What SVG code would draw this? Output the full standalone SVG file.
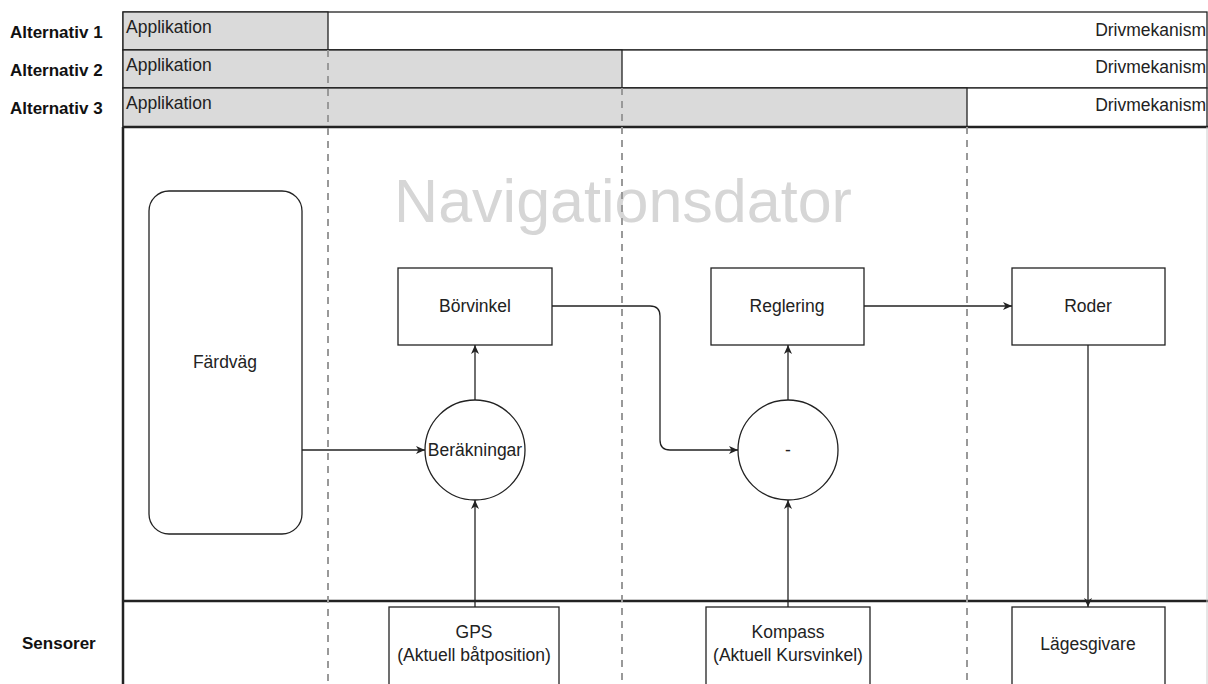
<svg xmlns="http://www.w3.org/2000/svg" width="1208" height="684" viewBox="0 0 1208 684">
<style>
.lbl{font-family:"Liberation Sans",Arial,sans-serif;font-size:17px;font-weight:bold;fill:#111}
.t{font-family:"Liberation Sans",Arial,sans-serif;font-size:17.5px;fill:#222}
.box{fill:#fff;stroke:#222;stroke-width:1.3}
.gray{fill:#dadada;stroke:#222;stroke-width:1.3}
.wh{fill:#fff;stroke:#222;stroke-width:1.3}
.dash{stroke:#999;stroke-width:2;stroke-dasharray:7 6;fill:none}
.edge{stroke:#222;stroke-width:1.3;fill:none}
.thick{stroke:#222;stroke-width:2.5;fill:none}
</style>
<defs>
<marker id="arr" markerWidth="10" markerHeight="10" refX="9" refY="5" orient="auto" markerUnits="userSpaceOnUse">
<path d="M0,1 L9,5 L0,9 L2.5,5 Z" fill="#222"/>
</marker>
</defs>
<rect width="1208" height="684" fill="#fff"/>
<g id="alternatives">
<rect class="wh" x="123" y="12" width="1084" height="38"/>
<rect class="gray" x="123" y="12" width="205" height="38"/>
<rect class="wh" x="123" y="50" width="1084" height="38"/>
<rect class="gray" x="123" y="50" width="499" height="38"/>
<rect class="wh" x="123" y="88" width="1084" height="39"/>
<rect class="gray" x="123" y="88" width="844" height="39"/>
<text class="t" x="126" y="33">Applikation</text>
<text class="t" x="126" y="71">Applikation</text>
<text class="t" x="126" y="109">Applikation</text>
<text class="t" x="1206" y="36" text-anchor="end">Drivmekanism</text>
<text class="t" x="1206" y="73" text-anchor="end">Drivmekanism</text>
<text class="t" x="1206" y="111" text-anchor="end">Drivmekanism</text>
<text class="lbl" x="10" y="38">Alternativ 1</text>
<text class="lbl" x="10" y="76">Alternativ 2</text>
<text class="lbl" x="10" y="114">Alternativ 3</text>
<text class="lbl" x="22" y="649">Sensorer</text>
</g>
<g id="frame">
<path class="thick" d="M123,127 H1208 M123,127 V684 M123,601 H1208"/>
<line x1="1207" y1="127" x2="1207" y2="684" stroke="#ccc" stroke-width="1"/>
<text x="623" y="222" text-anchor="middle" font-family="Liberation Sans,Arial,sans-serif" font-size="61" fill="#d6d6d6">Navigationsdator</text>
</g>
<g id="dividers">
<line class="dash" x1="328" y1="50" x2="328" y2="684"/>
<line class="dash" x1="622" y1="88" x2="622" y2="684"/>
<line class="dash" x1="967" y1="127" x2="967" y2="684"/>
</g>
<g id="connectors">
<line class="edge" x1="302" y1="450" x2="425" y2="450" marker-end="url(#arr)"/>
<line class="edge" x1="475" y1="400" x2="475" y2="345" marker-end="url(#arr)"/>
<line class="edge" x1="475" y1="607" x2="475" y2="500" marker-end="url(#arr)"/>
<path class="edge" d="M552,306 H650 Q660,306 660,316 V440 Q660,450 670,450 H738" marker-end="url(#arr)"/>
<line class="edge" x1="788" y1="400" x2="788" y2="345" marker-end="url(#arr)"/>
<line class="edge" x1="788" y1="607" x2="788" y2="500" marker-end="url(#arr)"/>
<line class="edge" x1="864" y1="306" x2="1012" y2="306" marker-end="url(#arr)"/>
<line class="edge" x1="1088" y1="345" x2="1088" y2="607" marker-end="url(#arr)"/>
</g>
<g id="fardvag">
<rect class="box" x="149" y="191" width="153" height="343" rx="20"/>
<text class="t" x="225" y="368" text-anchor="middle">Färdväg</text>
</g>
<g id="borvinkel">
<rect class="box" x="398" y="268" width="154" height="77"/>
<text class="t" x="475" y="312" text-anchor="middle">Börvinkel</text>
</g>
<g id="berakningar">
<circle class="box" cx="475" cy="450" r="50"/>
<text class="t" x="475" y="456" text-anchor="middle">Beräkningar</text>
</g>
<g id="reglering">
<rect class="box" x="711" y="268" width="153" height="77"/>
<text class="t" x="787" y="312" text-anchor="middle">Reglering</text>
</g>
<g id="minus">
<circle class="box" cx="788" cy="450" r="50"/>
<text class="t" x="788" y="456" text-anchor="middle">-</text>
</g>
<g id="roder">
<rect class="box" x="1012" y="268" width="153" height="77"/>
<text class="t" x="1088" y="312" text-anchor="middle">Roder</text>
</g>
<g id="gps">
<rect class="box" x="389" y="607" width="170" height="80"/>
<text class="t" x="474" y="638" text-anchor="middle">GPS</text>
<text class="t" x="474" y="661" text-anchor="middle">(Aktuell båtposition)</text>
</g>
<g id="kompass">
<rect class="box" x="706" y="607" width="164" height="80"/>
<text class="t" x="788" y="638" text-anchor="middle">Kompass</text>
<text class="t" x="788" y="661" text-anchor="middle">(Aktuell Kursvinkel)</text>
</g>
<g id="lagesgivare">
<rect class="box" x="1012" y="607" width="153" height="80"/>
<text class="t" x="1088" y="650" text-anchor="middle">Lägesgivare</text>
</g>
</svg>
